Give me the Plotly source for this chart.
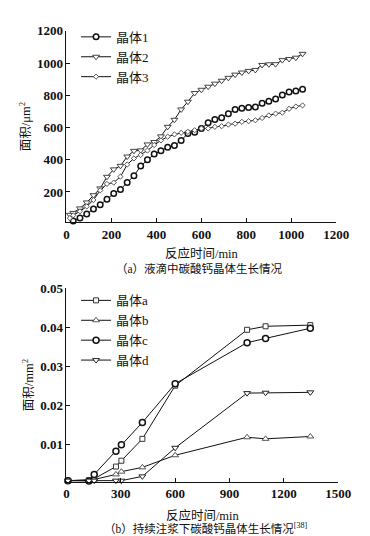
import plotly.graph_objects as go

# ---------------- data: (a) droplet ----------------
t_a1 = [30, 60, 90, 120, 150, 180, 210, 240, 270, 300, 330, 360, 390, 420, 450, 480, 510, 540, 570,
        600, 630, 660, 690, 720, 750, 780, 810, 840, 870, 900, 930, 960, 990, 1020, 1050]
crystal1 = [20, 39, 63, 94, 120, 155, 190, 216, 259, 300, 361, 400, 435, 455, 478, 488, 520, 563, 571,
            594, 629, 649, 661, 686, 712, 720, 724, 727, 751, 763, 776, 802, 820, 827, 837]
t_a23 = [15, 30, 60, 90, 120, 150, 180, 210, 240, 270, 300, 330, 360, 390, 420, 450, 480, 510, 540, 570,
         600, 630, 660, 690, 720, 750, 780, 810, 840, 870, 900, 930, 960, 990, 1020, 1050]
crystal2 = [58, 70, 98, 135, 180, 222, 294, 340, 362, 420, 455, 458, 495, 510, 545, 604, 648, 712, 760, 814,
            834, 853, 872, 890, 908, 928, 941, 951, 957, 988, 992, 993, 1018, 1025, 1033, 1057]
crystal3 = [38, 55, 80, 110, 150, 210, 250, 258, 295, 370, 408, 430, 457, 491, 520, 543, 557, 567, 573, 583,
            594, 594, 604, 608, 618, 624, 635, 639, 645, 659, 675, 686, 692, 716, 730, 737]

# ---------------- data: (b) continuous grouting ----------------
t_b = [8, 124, 153, 273, 303, 419, 600, 997, 1099, 1346]
crystal_a = [0.0008, 0.0009, 0.0013, 0.0044, 0.0059, 0.0115, 0.0251, 0.0394, 0.0403, 0.0406]
crystal_b = [0.0008, 0.0009, 0.0011, 0.0024, 0.0031, 0.0042, 0.0073, 0.0119, 0.0115, 0.0121]
crystal_c = [0.0008, 0.0007, 0.0024, 0.0083, 0.0100, 0.0157, 0.0256, 0.0361, 0.0372, 0.0398]
crystal_d = [0.0008, 0.0008, 0.0008, 0.0008, 0.0008, 0.0019, 0.0092, 0.0232, 0.0233, 0.0234]

ticks_a_x = [0, 200, 400, 600, 800, 1000, 1200]
ticks_a_y = [200, 400, 600, 800, 1000, 1200]
ticks_b_x = [0, 300, 600, 900, 1200, 1500]
ticks_b_y = [0.01, 0.02, 0.03, 0.04, 0.05]
ticks_b_y_text = ["0.01", "0.02", "0.03", "0.04", "0.05"]

W, H = 370, 536
SERIF = "Liberation Serif, Noto Sans CJK SC"
LINE = dict(color="#111", width=1)

fig = go.Figure()

def add(x, y, name, symbol, size, mcol, mw, xa, ya, leg):
    fig.add_trace(go.Scatter(
        x=x, y=y, name=name, mode="lines+markers", xaxis=xa, yaxis=ya, legend=leg,
        line=LINE, cliponaxis=False,
        marker=dict(symbol=symbol, size=size, color="white", line=dict(color=mcol, width=mw))))

add(t_a1, crystal1, "晶体1", "circle", 5.5, "#111", 1.5, "x", "y", "legend")
add(t_a23, crystal2, "晶体2", "triangle-down", 6, "#444", 1, "x", "y", "legend")
add(t_a23, crystal3, "晶体3", "diamond", 4, "#555", 1, "x", "y", "legend")

add(t_b, crystal_a, "晶体a", "square", 5, "#333", 1, "x2", "y2", "legend2")
add(t_b, crystal_b, "晶体b", "triangle-up", 6, "#555", 1, "x2", "y2", "legend2")
add(t_b, crystal_c, "晶体c", "circle", 6, "#111", 1.5, "x2", "y2", "legend2")
add(t_b, crystal_d, "晶体d", "triangle-down", 6, "#222", 1, "x2", "y2", "legend2")

TICKFONT = dict(family=SERIF, size=13, color="#111", weight="bold")
TITLEFONT = dict(family=SERIF, size=12.5, color="#111")
axis_common = dict(showline=True, linecolor="#111", linewidth=1, ticks="inside", ticklen=4,
                   tickcolor="#111", showgrid=False, zeroline=False, tickfont=TICKFONT)

fig.update_layout(
    width=W, height=H, margin=dict(l=0, r=0, t=0, b=0),
    paper_bgcolor="white", plot_bgcolor="white",
    xaxis=dict(domain=[58 / W, 340 / W], range=[0, 1200], tickvals=ticks_a_x, anchor="y",
               title=dict(text="反应时间/min", font=TITLEFONT, standoff=8), **axis_common),
    yaxis=dict(domain=[1 - 210 / H, 1 - 16 / H], range=[12, 1200], tickvals=ticks_a_y, anchor="x",
               title=dict(text="面积/μm<sup>2</sup>", font=TITLEFONT, standoff=3), **axis_common),
    xaxis2=dict(domain=[58 / W, 342 / W], range=[0, 1500], tickvals=ticks_b_x, anchor="y2",
                title=dict(text="反应时间/min", font=TITLEFONT, standoff=10), **axis_common),
    yaxis2=dict(domain=[1 - 473 / H, 1 - 277 / H], range=[0.0005, 0.05], tickvals=ticks_b_y,
                ticktext=ticks_b_y_text, anchor="x2",
                title=dict(text="面积/mm<sup>2</sup>", font=TITLEFONT, standoff=3), **axis_common),
    legend=dict(x=68 / W, y=1 - 7 / H, xanchor="left", yanchor="top", bgcolor="rgba(0,0,0,0)",
                font=dict(family=SERIF, size=13, color="#111"), itemwidth=30, tracegroupgap=0),
    legend2=dict(x=68 / W, y=1 - 274 / H, xanchor="left", yanchor="top", bgcolor="rgba(0,0,0,0)",
                 font=dict(family=SERIF, size=13, color="#111"), itemwidth=30, tracegroupgap=0),
    showlegend=True,
)

def ann(text, x, y, size=12, angle=0):
    fig.add_annotation(text=text, x=x / W, y=1 - y / H, xref="paper", yref="paper",
                       showarrow=False, textangle=angle, xanchor="center", yanchor="middle",
                       font=dict(family=SERIF, size=size, color="#111"))

ann("（a）液滴中碳酸钙晶体生长情况", 197, 257, 11.5)
ann("（b）持续注浆下碳酸钙晶体生长情况<sup>[38]</sup>", 203, 520, 11.5)

fig.write_html("out.html")
